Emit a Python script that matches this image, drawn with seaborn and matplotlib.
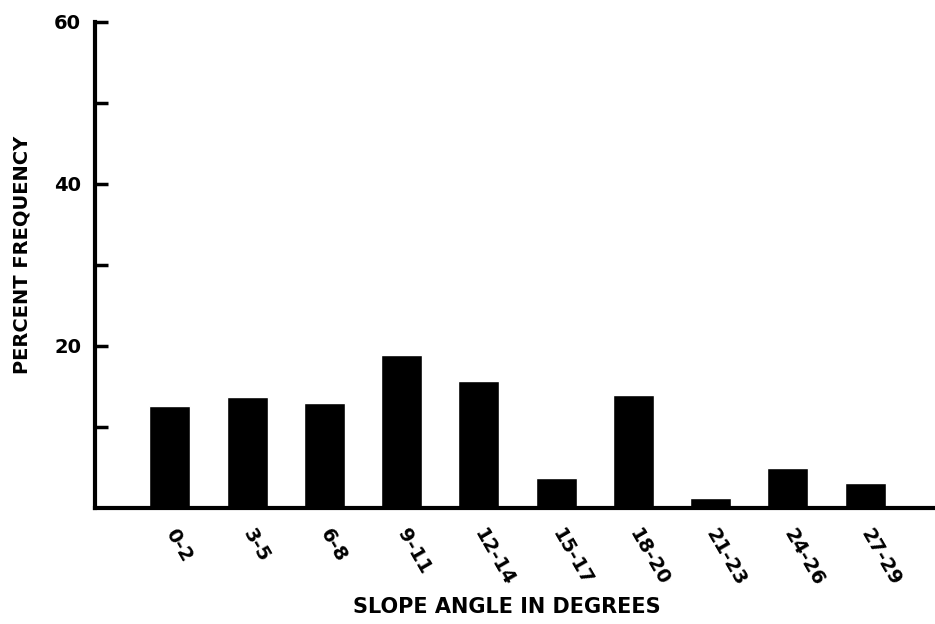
import pandas as pd
import seaborn as sns
import matplotlib.pyplot as plt

# Slope angle classes and percent frequency
slope_classes = ["0-2", "3-5", "6-8", "9-11", "12-14", "15-17", "18-20", "21-23", "24-26", "27-29"]
percent_freq = [12.6, 13.7, 13.0, 18.9, 15.7, 3.7, 14.0, 1.2, 4.9, 3.1]

y_major = [20, 40, 60]
y_major_labels = ["20", "40", "60"]
y_minor = [10, 30, 50]

df = pd.DataFrame({"slope": slope_classes, "pct": percent_freq})

sns.set_style("white")
plt.rcParams["font.family"] = ["DejaVu Sans"]
plt.rcParams["text.color"] = "black"
plt.rcParams["axes.labelcolor"] = "black"
plt.rcParams["xtick.color"] = "black"
plt.rcParams["ytick.color"] = "black"

fig = plt.figure(figsize=(9.35, 6.24), dpi=100)
ax = fig.add_axes([0.1016, 0.186, 0.898, 0.779])

sns.barplot(data=df, x="slope", y="pct", color="black", width=0.53,
            saturation=1, ax=ax)

ax.set_xlim(-0.97, 9.9)
ax.set_ylim(0, 60)

ax.set_yticks(y_major)
ax.set_yticklabels(y_major_labels, fontsize=14, fontweight="bold")
ax.set_yticks(y_minor, minor=True)
ax.tick_params(axis="y", which="both", direction="in", length=9, width=2.5,
               left=True, pad=10)

ax.set_xticks(range(len(slope_classes)))
ax.set_xticklabels(slope_classes, fontsize=14, fontweight="bold",
                   rotation=-60, ha="left", va="center", rotation_mode="anchor")
ax.tick_params(axis="x", length=0, pad=16)

for side in ["top", "right"]:
    ax.spines[side].set_visible(False)
for side in ["left", "bottom"]:
    ax.spines[side].set_linewidth(3)
    ax.spines[side].set_color("black")

ax.set_xlabel("SLOPE ANGLE IN DEGREES", fontsize=15, fontweight="bold")
ax.xaxis.set_label_coords(0.49, -0.204)
ax.xaxis.label.set_va("center")
ax.set_ylabel("PERCENT FREQUENCY", fontsize=14, fontweight="bold")
ax.yaxis.set_label_coords(-0.087, 0.52)
ax.yaxis.label.set_va("center")

plt.savefig("out.png", dpi=100)
